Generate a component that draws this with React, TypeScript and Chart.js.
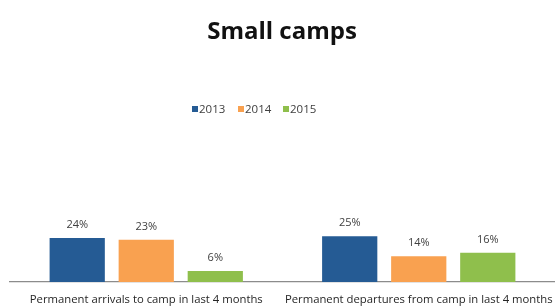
import React, { useEffect, useRef } from "react";
import { Chart, registerables } from "chart.js";

Chart.register(...registerables);

const title = "Small camps";
const categories = [
  "Permanent arrivals to camp in last 4 months",
  "Permanent departures from camp in last 4 months",
];
const seriesNames = ["2013", "2014", "2015"];
const values2013 = [24, 25];
const values2014 = [23, 14];
const values2015 = [6, 16];
const colors = ["#255B94", "#F9A150", "#8FBF4C"];

const FONT = "'Open Sans', sans-serif";

const drawPlugin = {
  id: "customText",
  afterDatasetsDraw(chart: any) {
    const ctx = chart.ctx;
    const area = chart.chartArea;
    ctx.save();
    // value labels
    ctx.font = `11px ${FONT}`;
    ctx.fillStyle = "#404040";
    ctx.textAlign = "center";
    ctx.textBaseline = "middle";
    chart.data.datasets.forEach((ds: any, i: number) => {
      const meta = chart.getDatasetMeta(i);
      meta.data.forEach((bar: any, j: number) => {
        ctx.fillText(ds.data[j] + "%", bar.x, bar.y - 13);
      });
    });
    // category labels
    const xs = chart.scales.x;
    ctx.font = `11.3px ${FONT}`;
    ctx.fillStyle = "#262626";
    chart.data.labels.forEach((lab: string, j: number) => {
      ctx.fillText(lab, xs.getPixelForValue(j), area.bottom + 18);
    });
    // title
    ctx.font = `bold 24px ${FONT}`;
    ctx.fillStyle = "#111111";
    ctx.fillText(title, 282, 32);
    // legend
    ctx.font = `11.5px ${FONT}`;
    ctx.textAlign = "left";
    const legendX = [192, 238, 283];
    chart.data.datasets.forEach((ds: any, i: number) => {
      ctx.fillStyle = colors[i];
      ctx.fillRect(legendX[i], 106, 6, 6);
      ctx.fillStyle = "#404040";
      ctx.fillText(ds.label, legendX[i] + 7, 109.5);
    });
    ctx.restore();
  },
};

export default function App() {
  const ref = useRef<HTMLCanvasElement>(null);
  useEffect(() => {
    document.body.style.margin = "0";
    const chart = new Chart(ref.current!, {
      type: "bar",
      data: {
        labels: categories,
        datasets: [values2013, values2014, values2015].map((d, i) => ({
          label: seriesNames[i],
          data: d,
          backgroundColor: colors[i],
          categoryPercentage: 0.76,
          barPercentage: 0.8,
        })),
      },
      options: {
        animation: false,
        responsive: false,
        maintainAspectRatio: false,
        layout: { padding: { left: 10, right: 0, top: 130, bottom: 25 } },
        plugins: {
          title: { display: false },
          legend: { display: false },
          tooltip: { enabled: false },
        },
        scales: {
          x: {
            grid: { display: false, drawTicks: false },
            border: { display: true, color: "#8C8C8C", width: 1.2 },
            ticks: { display: false },
          },
          y: {
            display: false,
            min: 0,
            max: 82.9,
          },
        },
      },
      plugins: [drawPlugin],
    });
    return () => chart.destroy();
  }, []);
  return (
    <div style={{ position: "absolute", left: 0, top: 0, width: 555, height: 307 }}>
      <canvas ref={ref} width={555} height={307} />
    </div>
  );
}
